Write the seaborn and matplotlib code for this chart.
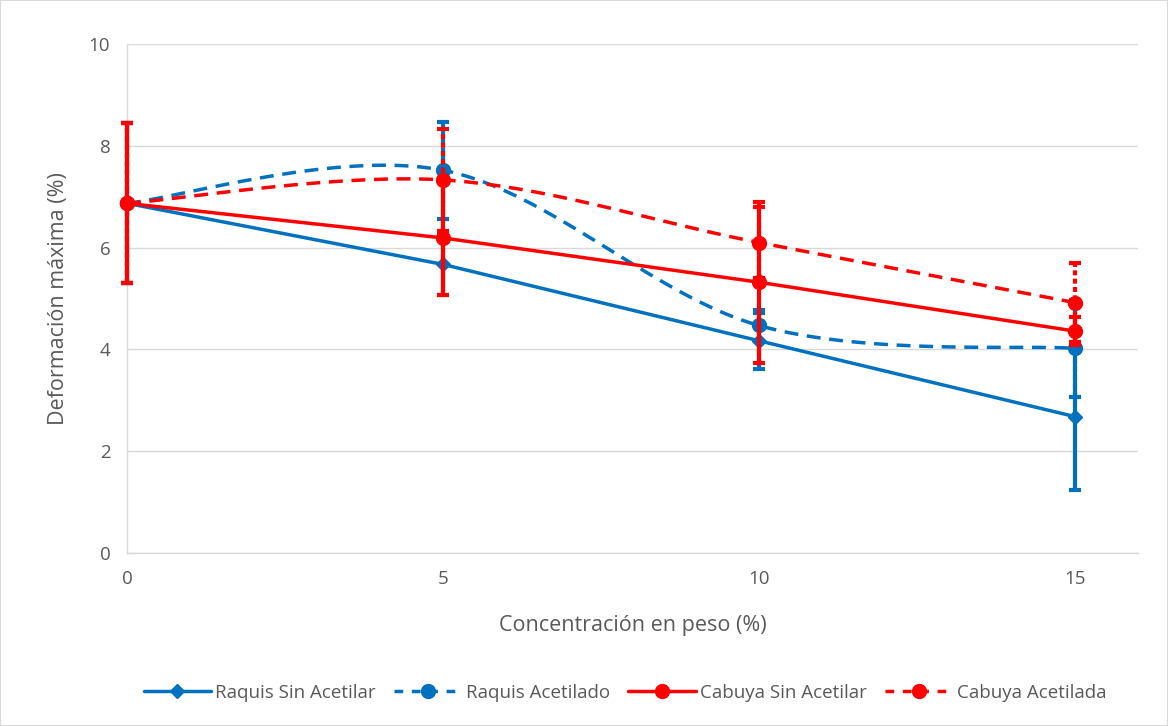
import numpy as np
import pandas as pd
import matplotlib
matplotlib.use("Agg")
import matplotlib.pyplot as plt
import seaborn as sns

# data
conc = [0, 5, 10, 15]
raquis_sin = [6.87, 5.67, 4.17, 2.68]
raquis_sin_err = [1.57, 0.6, 0.55, 1.45]
raquis_acet = [6.87, 7.52, 4.47, 4.02]
raquis_acet_err = [1.57, 0.95, 0.3, 0.96]
cabuya_sin = [6.87, 6.19, 5.32, 4.36]
cabuya_sin_err = [1.57, 1.12, 1.58, 0.27]
cabuya_acet = [6.87, 7.33, 6.10, 4.92]
cabuya_acet_err = [1.57, 1.0, 0.7, 0.78]

BLUE = "#0070C0"
RED = "#FF0000"
TXT = "#595959"


def smooth(x, y, n=40):
    # Excel-like smoothed line (Catmull-Rom as cubic Bezier)
    p = np.column_stack([x, y]).astype(float)
    p = np.vstack([p[0], p, p[-1]])
    out = []
    for i in range(1, len(p) - 2):
        p0, p1, p2, p3 = p[i - 1], p[i], p[i + 1], p[i + 2]
        c1 = p1 + (p2 - p0) / 6
        c2 = p2 - (p3 - p1) / 6
        t = np.linspace(0, 1, n)[:, None]
        b = (1 - t) ** 3 * p1 + 3 * (1 - t) ** 2 * t * c1 + 3 * (1 - t) * t ** 2 * c2 + t ** 3 * p2
        out.append(b if i == 1 else b[1:])
    b = np.vstack(out)
    return b[:, 0], b[:, 1]


sns.set_style("white")
plt.rcParams["font.family"] = ["Open Sans", "DejaVu Sans"]

fig = plt.figure(figsize=(11.68, 7.26), dpi=100)
ax = fig.add_axes([0.1087, 0.2383, 0.8656, 0.7011])

series = [
    ("Raquis Sin Acetilar", raquis_sin, raquis_sin_err, BLUE, "-", "D", 7, False),
    ("Raquis Acetilado", raquis_acet, raquis_acet_err, BLUE, "--", "o", 10, True),
    ("Cabuya Sin Acetilar", cabuya_sin, cabuya_sin_err, RED, "-", "o", 10, False),
    ("Cabuya Acetilada", cabuya_acet, cabuya_acet_err, RED, "--", "o", 10, True),
]

handles = []
for i, (name, vals, err, col, ls, mk, ms, sm) in enumerate(series):
    z = 3 + i
    dash = (4, 2.5) if ls == "--" else None
    # error bars
    eb = ax.errorbar(conc, vals, yerr=err, fmt="none", ecolor=col, elinewidth=3,
                     capsize=4, capthick=3, zorder=z)
    if ls == "--":
        eb[2][0].set_linestyle((0, (1.2, 0.8)))
    for art in list(eb[1]) + list(eb[2]):
        art.set_clip_on(False)
    # line
    if sm:
        xs, ys = smooth(conc, vals)
        d = pd.DataFrame({"x": xs, "y": ys})
        sns.lineplot(data=d, x="x", y="y", ax=ax, color=col, lw=2.5, sort=False,
                     estimator=None, zorder=z)
        ax.lines[-1].set_dashes(dash)
    else:
        d = pd.DataFrame({"x": conc, "y": vals})
        sns.lineplot(data=d, x="x", y="y", ax=ax, color=col, lw=2.5, zorder=z)
    ax.plot(conc, vals, ls="none", marker=mk, ms=ms, color=col, zorder=z + 0.5,
            clip_on=False)
    h, = ax.plot([], [], color=col, lw=2.5, marker=mk, ms=ms)
    if dash:
        h.set_dashes((2.5, 2.5))
    handles.append((h, name))

ax.set_xlim(0, 16)
ax.set_ylim(0, 10)
ax.set_xticks([0, 5, 10, 15])
ax.set_yticks([0, 2, 4, 6, 8, 10])
ax.yaxis.grid(True, color="#D9D9D9", lw=1)
ax.xaxis.grid(False)
for s in ["top", "right"]:
    ax.spines[s].set_visible(False)
for s in ["left", "bottom"]:
    ax.spines[s].set_color("#D9D9D9")
    ax.spines[s].set_linewidth(1)
ax.tick_params(axis="both", colors=TXT, labelsize=13.5, length=0, pad=12)
ax.set_xlabel("Concentración en peso (%)", fontsize=15.5, color=TXT, labelpad=20)
ax.set_ylabel("Deformación máxima (%)", fontsize=15.5, color=TXT, labelpad=14)

fig.legend([h for h, _ in handles], [n for _, n in handles], loc="center",
           bbox_to_anchor=(0.535, 0.046), ncol=4, frameon=False, fontsize=13.5,
           handlelength=3.6, handletextpad=0.2, columnspacing=1.0, labelcolor=TXT)

fig.patches.append(plt.Rectangle((0, 0), 1, 1, transform=fig.transFigure,
                                 fill=False, ec="#D9D9D9", lw=1.5))
fig.savefig("out.png", dpi=100)
